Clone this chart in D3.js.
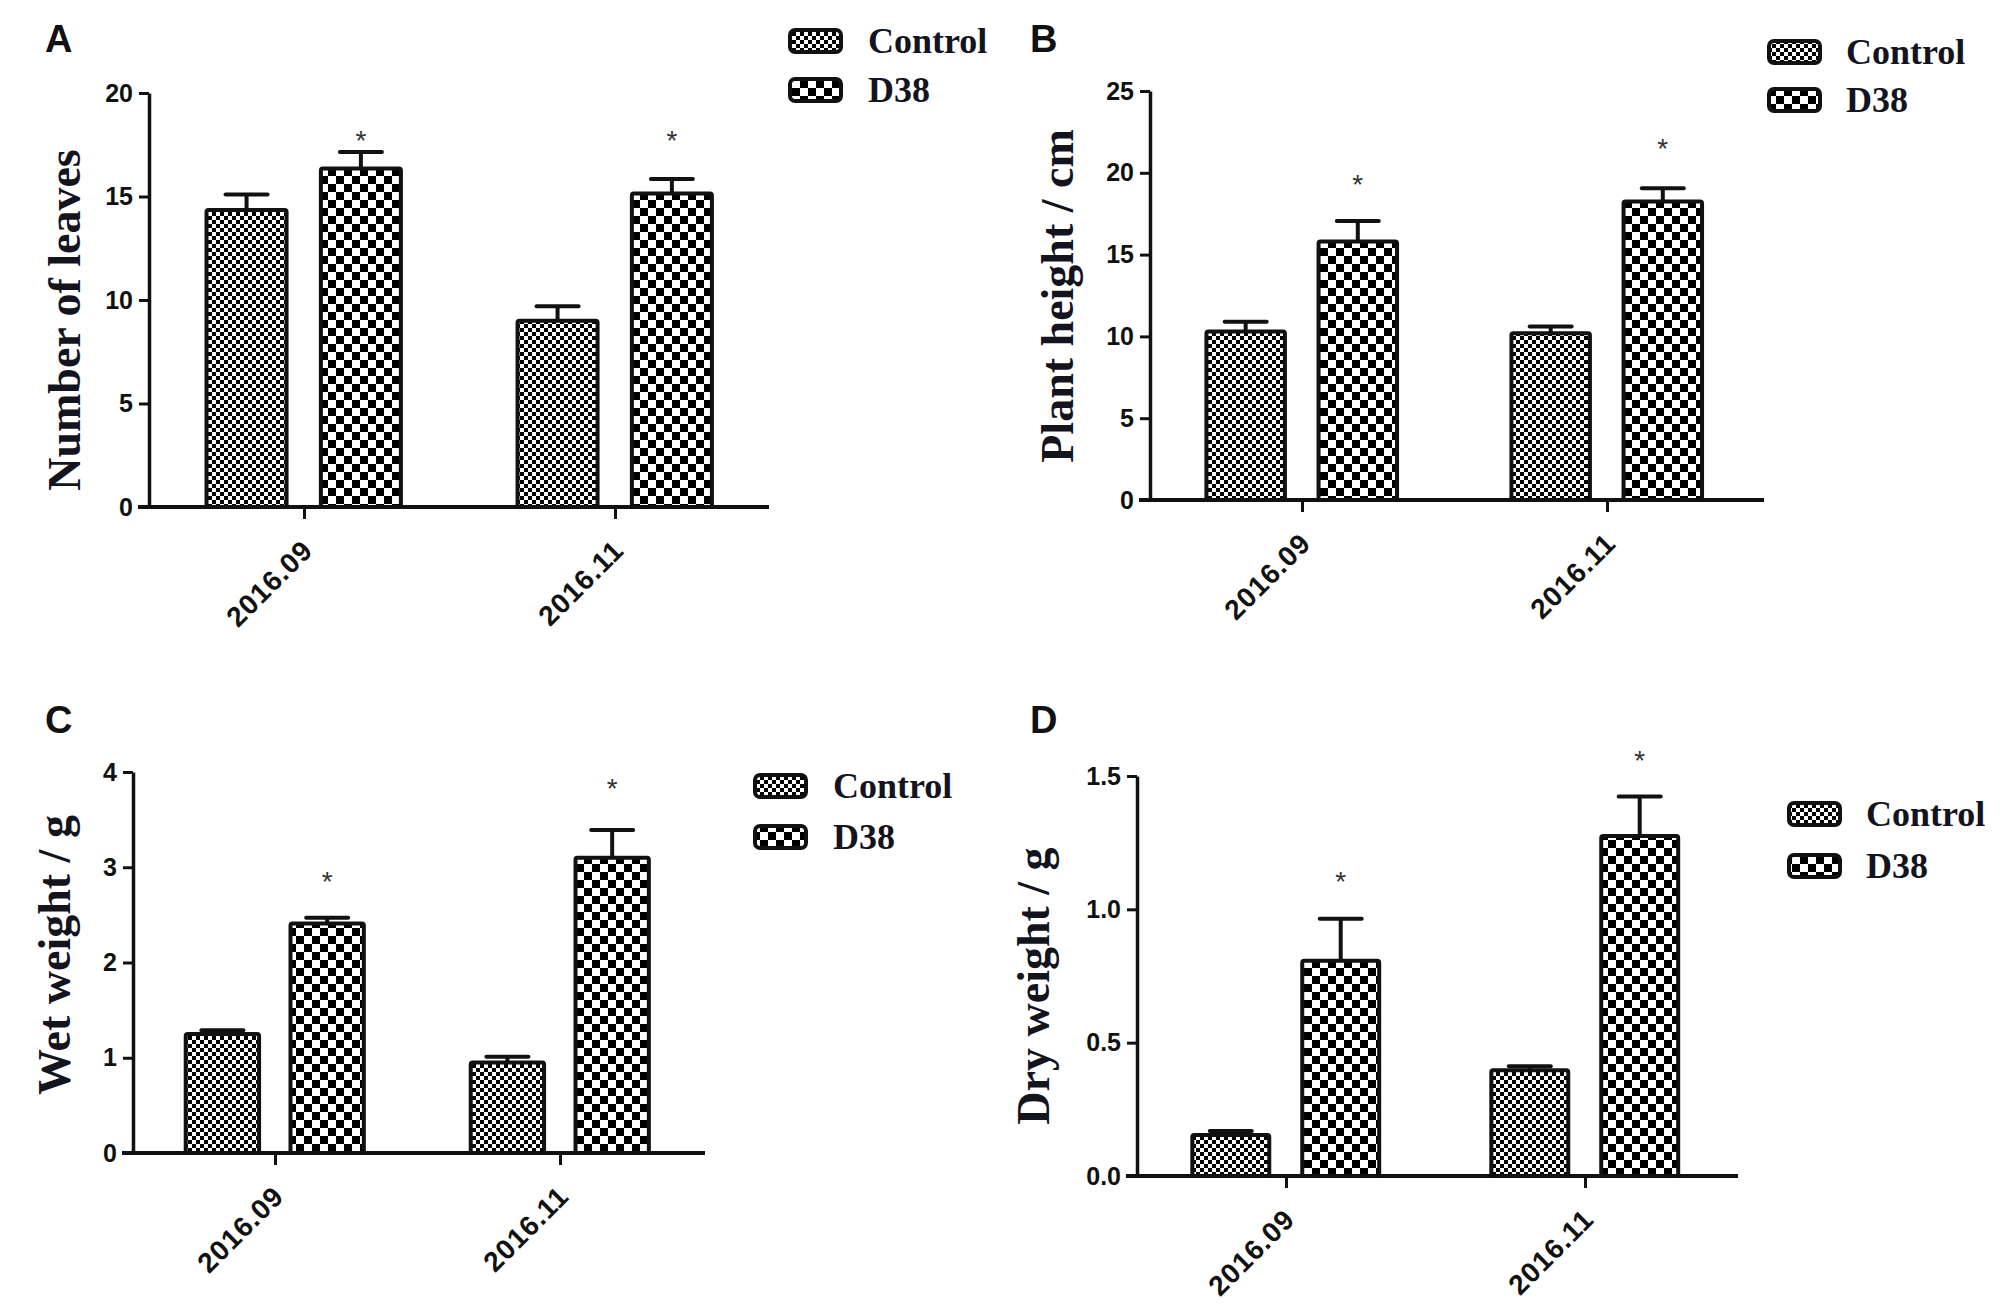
<!DOCTYPE html>
<html>
<head>
<meta charset="utf-8">
<script src="https://cdn.jsdelivr.net/npm/d3@7"></script>
<style>
  body { margin: 0; background: #fff; }
  svg { display: block; }
</style>
</head>
<body>
<script>
// shared categories and series
var categories = ['2016.09', '2016.11'];
var series = ['Control', 'D38'];

// A - number of leaves
var leavesControl = [14.35, 9.0];
var leavesControlSem = [0.75, 0.7];
var leavesD38 = [16.35, 15.15];
var leavesD38Sem = [0.8, 0.7];
var leavesStars = [18.0, 18.0];
var leavesTicks = [0, 5, 10, 15, 20];

// B - plant height
var heightControl = [10.3, 10.2];
var heightControlSem = [0.6, 0.4];
var heightD38 = [15.8, 18.25];
var heightD38Sem = [1.25, 0.8];
var heightStars = [19.7, 21.9];
var heightTicks = [0, 5, 10, 15, 20, 25];

// C - wet weight
var wetControl = [1.25, 0.95];
var wetControlSem = [0.04, 0.06];
var wetD38 = [2.41, 3.1];
var wetD38Sem = [0.06, 0.29];
var wetStars = [2.92, 3.9];
var wetTicks = [0, 1, 2, 3, 4];

// D - dry weight
var dryControl = [0.154, 0.397];
var dryControlSem = [0.015, 0.015];
var dryD38 = [0.807, 1.275];
var dryD38Sem = [0.158, 0.148];
var dryStars = [1.13, 1.583];
var dryTicks = [0, 0.5, 1.0, 1.5];

var W = 2008, H = 1305;
var sans = 'Liberation Sans, Arial, sans-serif';
var serif = 'Liberation Serif, Times New Roman, serif';
var ink = '#111';

// panel layout (pixel frame of each small chart)
var panels = [
  { letter: 'A', lx: 45, ly: 52, title: 'Number of leaves', tx: 80, ty: 320,
    ax: 149, y0: 507, y1: 93, xEnd: 769, step: 311,
    domain: [0, 20], ticks: leavesTicks, fmt: d3.format('d'),
    ctrl: leavesControl, ctrlSem: leavesControlSem, d38: leavesD38, d38Sem: leavesD38Sem, stars: leavesStars,
    legX: 790, legY: [41, 90], legTx: 868 },
  { letter: 'B', lx: 1030, ly: 52, title: 'Plant height / cm', tx: 1073, ty: 296,
    ax: 1150, y0: 500, y1: 91, xEnd: 1764, step: 305,
    domain: [0, 25], ticks: heightTicks, fmt: d3.format('d'),
    ctrl: heightControl, ctrlSem: heightControlSem, d38: heightD38, d38Sem: heightD38Sem, stars: heightStars,
    legX: 1769, legY: [52, 100], legTx: 1846 },
  { letter: 'C', lx: 45, ly: 733, title: 'Wet weight / g', tx: 70, ty: 955,
    ax: 133, y0: 1153, y1: 772, xEnd: 705, step: 285,
    domain: [0, 4], ticks: wetTicks, fmt: d3.format('d'),
    ctrl: wetControl, ctrlSem: wetControlSem, d38: wetD38, d38Sem: wetD38Sem, stars: wetStars,
    legX: 755, legY: [786, 837], legTx: 833 },
  { letter: 'D', lx: 1030, ly: 733, title: 'Dry weight / g', tx: 1049, ty: 986,
    ax: 1137, y0: 1176, y1: 776, xEnd: 1738, step: 299,
    domain: [0, 1.5], ticks: dryTicks, fmt: d3.format('.1f'),
    ctrl: dryControl, ctrlSem: dryControlSem, d38: dryD38, d38Sem: dryD38Sem, stars: dryStars,
    legX: 1789, legY: [814, 866], legTx: 1866 }
];

var svg = d3.select('body').append('svg')
  .attr('width', W)
  .attr('height', H);

svg.append('rect').attr('width', W).attr('height', H).attr('fill', '#fff');

// checker patterns: fine for Control, coarse for D38
var defs = svg.append('defs');
function checker(id, cell) {
  var pat = defs.append('pattern')
    .attr('id', id)
    .attr('patternUnits', 'userSpaceOnUse')
    .attr('width', cell * 2)
    .attr('height', cell * 2);
  pat.append('rect').attr('width', cell * 2).attr('height', cell * 2).attr('fill', '#fff');
  pat.append('rect').attr('width', cell).attr('height', cell).attr('fill', '#000');
  pat.append('rect').attr('x', cell).attr('y', cell).attr('width', cell).attr('height', cell).attr('fill', '#000');
}
checker('pat-Control', 4);
checker('pat-D38', 8);

panels.forEach(drawPanel);

function drawPanel(p) {
  var g = svg.append('g');

  var y = d3.scaleLinear().domain(p.domain).range([p.y0, p.y1]);
  var x = d3.scaleBand().domain(categories).range([p.ax, p.ax + 2 * p.step]);
  var xs = d3.scaleBand().domain(series)
    .range([0.185 * p.step, 0.81 * p.step])
    .paddingInner(0.3);

  // panel letter
  g.append('text')
    .attr('x', p.lx).attr('y', p.ly)
    .attr('font-family', sans).attr('font-weight', 'bold')
    .attr('font-size', 38).attr('fill', ink)
    .text(p.letter);

  // y axis title
  g.append('text')
    .attr('transform', 'translate(' + p.tx + ',' + p.ty + ') rotate(-90)')
    .attr('text-anchor', 'middle')
    .attr('font-family', serif).attr('font-weight', 'bold')
    .attr('font-size', 46).attr('fill', '#14141f')
    .text(p.title);

  // y axis
  var yAxis = d3.axisLeft(y)
    .tickValues(p.ticks)
    .tickSize(10)
    .tickSizeOuter(0)
    .tickPadding(6)
    .tickFormat(p.fmt);

  var ya = g.append('g')
    .attr('transform', 'translate(' + p.ax + ',0)')
    .call(yAxis);
  ya.select('.domain').attr('stroke', ink).attr('stroke-width', 3.5);
  ya.selectAll('.tick line').attr('stroke', ink).attr('stroke-width', 3);
  ya.selectAll('.tick text')
    .attr('font-family', sans).attr('font-weight', 'bold')
    .attr('font-size', 25).attr('fill', ink);

  // x axis line + category ticks
  g.append('line')
    .attr('x1', p.ax - 11).attr('x2', p.xEnd)
    .attr('y1', y(0)).attr('y2', y(0))
    .attr('stroke', ink).attr('stroke-width', 4);

  g.selectAll('.cat-tick')
    .data(categories)
    .join('line')
    .attr('class', 'cat-tick')
    .attr('x1', function(d) { return x(d) + x.bandwidth() / 2; })
    .attr('x2', function(d) { return x(d) + x.bandwidth() / 2; })
    .attr('y1', y(0)).attr('y2', y(0) + 12)
    .attr('stroke', ink).attr('stroke-width', 3);

  g.selectAll('.cat-label')
    .data(categories)
    .join('text')
    .attr('class', 'cat-label')
    .attr('transform', function(d) {
      var px = x(d) + x.bandwidth() / 2 + 10, py = y(0) + 45;
      return 'translate(' + px + ',' + py + ') rotate(-45)';
    })
    .attr('text-anchor', 'end')
    .attr('font-family', sans).attr('font-weight', 'bold')
    .attr('font-size', 28).attr('letter-spacing', 1)
    .attr('fill', ink)
    .text(function(d) { return d; });

  // bar rows
  var rows = [];
  categories.forEach(function(c, i) {
    rows.push({ cat: c, s: 'Control', v: p.ctrl[i], e: p.ctrlSem[i], star: null });
    rows.push({ cat: c, s: 'D38', v: p.d38[i], e: p.d38Sem[i], star: p.stars[i] });
  });

  function cx(d) { return x(d.cat) + xs(d.s) + xs.bandwidth() / 2; }

  // error bars (upper only)
  g.selectAll('.err-stem')
    .data(rows)
    .join('line')
    .attr('class', 'err-stem')
    .attr('x1', cx).attr('x2', cx)
    .attr('y1', function(d) { return y(d.v); })
    .attr('y2', function(d) { return y(d.v + d.e); })
    .attr('stroke', ink).attr('stroke-width', 4);

  g.selectAll('.err-cap')
    .data(rows)
    .join('line')
    .attr('class', 'err-cap')
    .attr('x1', function(d) { return cx(d) - 21; })
    .attr('x2', function(d) { return cx(d) + 21; })
    .attr('y1', function(d) { return y(d.v + d.e); })
    .attr('y2', function(d) { return y(d.v + d.e); })
    .attr('stroke', ink).attr('stroke-width', 4)
    .attr('stroke-linecap', 'round');

  g.selectAll('.bar')
    .data(rows)
    .join('rect')
    .attr('class', 'bar')
    .attr('x', function(d) { return x(d.cat) + xs(d.s); })
    .attr('width', xs.bandwidth())
    .attr('y', function(d) { return y(d.v); })
    .attr('height', function(d) { return y(0) - y(d.v); })
    .attr('rx', 2)
    .attr('fill', function(d) { return 'url(#pat-' + d.s + ')'; })
    .attr('stroke', ink).attr('stroke-width', 4);

  g.selectAll('.star')
    .data(rows.filter(function(d) { return d.star != null; }))
    .join('text')
    .attr('class', 'star')
    .attr('x', cx)
    .attr('y', function(d) { return y(d.star) + 16; })
    .attr('text-anchor', 'middle')
    .attr('font-family', sans)
    .attr('font-size', 28).attr('fill', '#333')
    .text('*');

  // legend
  series.forEach(function(s, i) {
    var cy = p.legY[i];
    g.append('rect')
      .attr('x', p.legX).attr('y', cy - 11)
      .attr('width', 51).attr('height', 22)
      .attr('rx', 5)
      .attr('fill', 'url(#pat-' + s + ')')
      .attr('stroke', ink).attr('stroke-width', 4);
    g.append('text')
      .attr('x', p.legTx).attr('y', cy + 12)
      .attr('font-family', serif).attr('font-weight', 'bold')
      .attr('font-size', 36).attr('fill', '#14141f')
      .text(s);
  });
}
</script>
</body>
</html>
